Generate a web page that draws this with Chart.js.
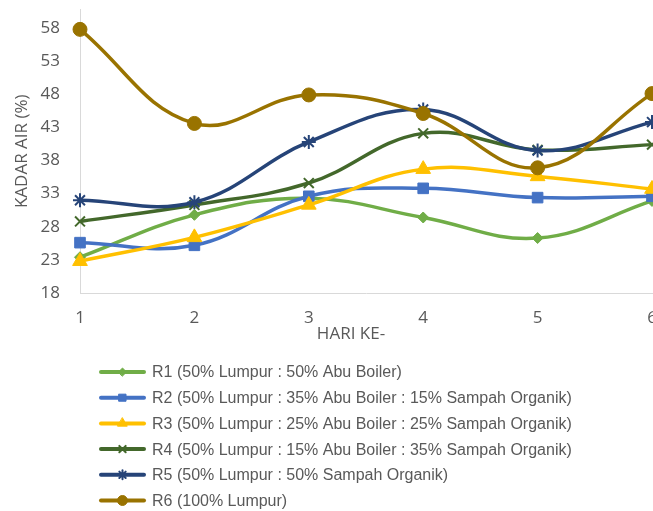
<!DOCTYPE html>
<html>
<head>
<meta charset="utf-8">
<script src="https://cdn.jsdelivr.net/npm/chart.js@4"></script>
<style>
  html, body { margin: 0; padding: 0; background: #fff; overflow: hidden; }
  #wrap { position: relative; width: 700px; height: 511px; }
</style>
</head>
<body>
<div id="wrap"><canvas id="c"></canvas></div>
<script>
const days = ['1', '2', '3', '4', '5', '6'];
const r1 = [23.4, 29.8, 32.3, 29.4, 26.3, 31.9];
const r2 = [25.6, 25.2, 32.6, 33.8, 32.4, 32.6];
const r3 = [22.8, 26.4, 31.3, 36.7, 35.6, 33.7];
const r4 = [28.8, 31.3, 34.6, 42.1, 39.6, 40.4];
const r5 = [32.0, 31.7, 40.8, 45.7, 39.5, 43.8];
const r6 = [57.8, 43.6, 47.9, 45.1, 36.9, 48.1];
const yTicks = [18, 23, 28, 33, 38, 43, 48, 53, 58];
const seriesLabels = [
  'R1 (50% Lumpur : 50% Abu Boiler)',
  'R2 (50% Lumpur : 35% Abu Boiler : 15% Sampah Organik)',
  'R3 (50% Lumpur : 25% Abu Boiler : 25% Sampah Organik)',
  'R4 (50% Lumpur : 15% Abu Boiler : 35% Sampah Organik)',
  'R5 (50% Lumpur : 50% Sampah Organik)',
  'R6 (100% Lumpur)'
];
const yTitle = 'KADAR AIR (%)';
const xTitle = 'HARI KE-';

const colors = ['#70AD47', '#4472C4', '#FFC000', '#43682B', '#264478', '#997300'];
const styles = ['rectRot', 'rect', 'triangle', 'crossRot', 'star', 'circle'];
const radii = [5.5, 7.5, 8.5, 7, 7, 7];
const legendRadii = [4, 5, 5.5, 4.5, 4.5, 5];
const values = [r1, r2, r3, r4, r5, r6];

const datasets = values.map((v, i) => ({
  label: seriesLabels[i],
  data: v,
  borderColor: colors[i],
  backgroundColor: colors[i],
  pointBackgroundColor: colors[i],
  pointBorderColor: colors[i],
  pointStyle: styles[i],
  pointRadius: radii[i],
  pointBorderWidth: (styles[i] === 'crossRot' || styles[i] === 'star') ? 2 : 1,
  borderWidth: 3.5,
  tension: 0.4,
  fill: false,
  clip: false,
  order: 5 - i
}));

const FONT = '"Open Sans", sans-serif';
const GREY = '#595959';

const customLegend = {
  id: 'customLegend',
  afterDraw(chart) {
    const ctx = chart.ctx;
    const area = chart.chartArea;
    ctx.save();
    // x axis title
    ctx.font = '17px ' + FONT;
    ctx.fillStyle = GREY;
    ctx.textAlign = 'center';
    ctx.textBaseline = 'middle';
    ctx.fillText(xTitle, area.left + 271, area.bottom + 41);
    // legend
    const top = area.bottom + 79;
    chart.data.datasets.forEach((ds, i) => {
      const y = top + i * 25.7;
      ctx.lineWidth = 4;
      ctx.lineCap = 'round';
      ctx.strokeStyle = ds.borderColor;
      ctx.beginPath();
      ctx.moveTo(area.left + 21, y);
      ctx.lineTo(area.left + 64, y);
      ctx.stroke();
      ctx.fillStyle = ds.backgroundColor;
      ctx.strokeStyle = ds.borderColor;
      ctx.lineWidth = ds.pointBorderWidth;
      Chart.helpers.drawPoint(ctx, {pointStyle: ds.pointStyle, radius: legendRadii[i], rotation: 0, borderWidth: ds.pointBorderWidth}, area.left + 42.5, y);
      ctx.font = '16px "Liberation Sans", Arial, sans-serif';
      ctx.fillStyle = GREY;
      ctx.textAlign = 'left';
      ctx.textBaseline = 'middle';
      ctx.fillText(ds.label, area.left + 72, y + 1);
    });
    ctx.restore();
  }
};

new Chart(document.getElementById('c'), {
  type: 'line',
  data: { labels: days, datasets: datasets },
  plugins: [customLegend],
  options: {
    responsive: true,
    maintainAspectRatio: false,
    animation: false,
    layout: { padding: { left: 0, top: 0, right: 48, bottom: 173 } },
    plugins: { legend: { display: false }, tooltip: { enabled: false } },
    scales: {
      x: {
        type: 'category',
        offset: false,
        grid: { display: false, drawTicks: false },
        border: { display: true, color: '#D9D9D9', width: 1 },
        ticks: { color: GREY, font: { family: FONT, size: 17 }, padding: 15, maxRotation: 0, autoSkip: false },
        afterFit(scale) { scale.height = 45; scale.paddingLeft = 0; scale.paddingRight = 0; }
      },
      y: {
        min: 18,
        max: 60.8,
        grid: { display: false, drawTicks: false },
        border: { display: true, color: '#D9D9D9', width: 1 },
        afterBuildTicks(scale) { scale.ticks = yTicks.map(v => ({ value: v })); },
        ticks: { color: GREY, font: { family: FONT, size: 17 }, padding: 20 },
        title: { display: true, text: yTitle, color: GREY, font: { family: FONT, size: 17 }, padding: { top: 12, bottom: 0 } },
        afterFit(scale) { scale.width = 80; scale.paddingTop = 0; scale.paddingBottom = 0; }
      }
    }
  }
});
</script>
</body>
</html>
